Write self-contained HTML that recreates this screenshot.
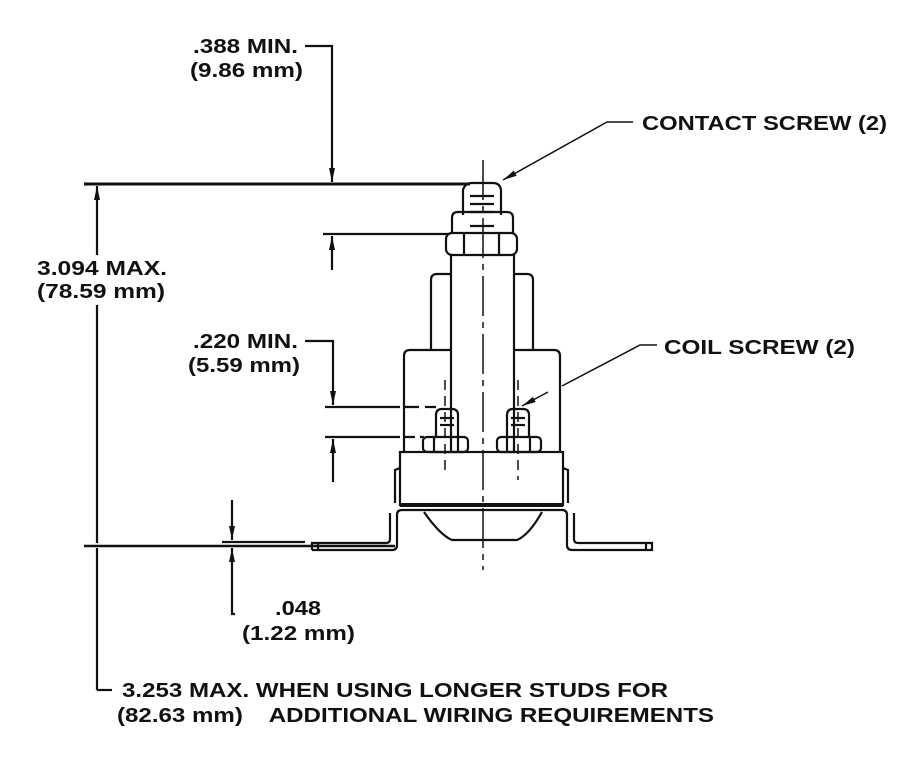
<!DOCTYPE html>
<html><head><meta charset="utf-8"><style>
html,body{margin:0;padding:0;background:#fff}
svg{display:block}
text{font-family:"Liberation Sans",sans-serif;font-weight:bold;font-size:20px;fill:#111}
</style></head><body>
<svg width="900" height="769" viewBox="0 0 900 769" xmlns="http://www.w3.org/2000/svg">
<defs>
<marker id="ah" markerWidth="14" markerHeight="8" refX="14" refY="4" orient="auto-start-reverse" markerUnits="userSpaceOnUse">
<path d="M0,1 L14,4 L0,7 Z" fill="#111"/>
</marker>
</defs>
<g stroke="#111" fill="none" stroke-width="2.2">
<line x1="84" y1="184" x2="470" y2="184" stroke-width="3"/>
<line x1="97" y1="186" x2="97" y2="255" marker-start="url(#ah)"/>
<line x1="97" y1="305" x2="97" y2="543"/>
<line x1="97" y1="548" x2="97" y2="690"/>
<line x1="97" y1="690" x2="112" y2="690"/>
<line x1="84" y1="546" x2="395" y2="546" stroke-width="2.5"/>
<line x1="222" y1="542" x2="305" y2="542"/>
<polyline points="305,46 332,46 332,182" marker-end="url(#ah)"/>
<line x1="323" y1="234" x2="448" y2="234"/>
<line x1="332" y1="270" x2="332" y2="236" marker-end="url(#ah)"/>
<polyline points="305,341 333,341 333,405" marker-end="url(#ah)"/>
<line x1="325" y1="407" x2="400" y2="407"/>
<line x1="405" y1="407" x2="436" y2="407" stroke-dasharray="14,6"/>
<line x1="325" y1="437" x2="400" y2="437"/>
<line x1="405" y1="437" x2="424" y2="437" stroke-dasharray="10,5"/>
<line x1="333" y1="482" x2="333" y2="439" marker-end="url(#ah)"/>
<line x1="232" y1="500" x2="232" y2="540" marker-end="url(#ah)"/>
<polyline points="232,590 232,548" marker-end="url(#ah)"/>
<polyline points="232,590 232,614 235,614"/>
<polyline points="633,122 607,122 503,180" stroke-width="1.5" marker-end="url(#ah)"/>
<polyline points="657,345 640,345 562,386" stroke-width="1.5"/>
<line x1="548" y1="392" x2="522" y2="406" stroke-width="1.5" marker-end="url(#ah)"/>
<line x1="483" y1="160" x2="483" y2="570" stroke-width="1.5" stroke-dasharray="40,6,6,6"/>
<path d="M463,215 L463,190 Q465,183 472,183 L493,183 Q500,183 501,190 L501,215" />
<line x1="470" y1="196" x2="494" y2="196"/><line x1="470" y1="204" x2="494" y2="204"/><line x1="470" y1="212" x2="494" y2="212"/><line x1="470" y1="226" x2="494" y2="226"/>
<path d="M452,233 L452,218 Q452,212 458,212 L507,212 Q513,212 513,218 L513,233"/>
<rect x="446" y="233" width="71" height="22" rx="6"/>
<line x1="464" y1="233" x2="464" y2="255"/><line x1="499" y1="233" x2="499" y2="255"/>
<line x1="451" y1="255" x2="451" y2="452"/><line x1="514" y1="255" x2="514" y2="452"/>
<path d="M431,350 L431,280 Q431,274 437,274 L451,274"/>
<path d="M514,274 L527,274 Q533,274 533,280 L533,350"/>
<path d="M404,452 L404,356 Q404,350 410,350 L451,350"/>
<path d="M514,350 L554,350 Q560,350 560,356 L560,452"/>
<path d="M436,437 L436,415 Q436,409 442,409 L452,409 Q458,409 458,415 L458,437"/>
<line x1="440" y1="418" x2="454" y2="418"/><line x1="440" y1="425" x2="454" y2="425"/>
<rect x="423" y="437" width="45" height="15" rx="4"/>
<line x1="434" y1="437" x2="434" y2="452"/><line x1="458" y1="437" x2="458" y2="452"/>
<path d="M507,437 L507,415 Q507,409 513,409 L523,409 Q529,409 529,415 L529,437"/>
<line x1="511" y1="418" x2="525" y2="418"/><line x1="511" y1="425" x2="525" y2="425"/>
<rect x="497" y="437" width="44" height="15" rx="4"/>
<line x1="507" y1="437" x2="507" y2="452"/><line x1="530" y1="437" x2="530" y2="452"/>
<line x1="445" y1="380" x2="445" y2="470" stroke-width="1.5" stroke-dasharray="10,6"/>
<line x1="518" y1="380" x2="518" y2="480" stroke-width="1.5" stroke-dasharray="10,6"/>
<rect x="400" y="452" width="163" height="53"/>
<line x1="400" y1="505" x2="563" y2="505" stroke-width="4"/>
<path d="M400,468 L395,470 L395,503"/><path d="M563,468 L568,470 L568,503"/>
<path d="M312,550 L392,550 Q397,550 397,545 L397,515 Q397,510 402,510 L562,510 Q567,510 567,515 L567,545 Q567,550 572,550 L652,550 L652,543 L578,543 Q574,543 574,539 L574,513"/>
<path d="M312,550 L312,543 L386,543 Q390,543 390,539 L390,513"/>
<line x1="318" y1="543" x2="318" y2="550"/><line x1="646" y1="543" x2="646" y2="550"/>
<path d="M424,512 Q440,535 452,540 L517,540 Q529,535 542,512"/>
</g>
<text x="193" y="53" textLength="105" lengthAdjust="spacingAndGlyphs">.388 MIN.</text>
<text x="190" y="77" textLength="113" lengthAdjust="spacingAndGlyphs">(9.86 mm)</text>
<text x="37" y="275" textLength="130" lengthAdjust="spacingAndGlyphs">3.094 MAX.</text>
<text x="37" y="298" textLength="128" lengthAdjust="spacingAndGlyphs">(78.59 mm)</text>
<text x="193" y="348" textLength="105" lengthAdjust="spacingAndGlyphs">.220 MIN.</text>
<text x="188" y="372" textLength="112" lengthAdjust="spacingAndGlyphs">(5.59 mm)</text>
<text x="275" y="615" textLength="46" lengthAdjust="spacingAndGlyphs">.048</text>
<text x="242" y="640" textLength="113" lengthAdjust="spacingAndGlyphs">(1.22 mm)</text>
<text x="642" y="130" textLength="245" lengthAdjust="spacingAndGlyphs">CONTACT SCREW (2)</text>
<text x="664" y="354" textLength="191" lengthAdjust="spacingAndGlyphs">COIL SCREW (2)</text>
<text x="122" y="697" textLength="546" lengthAdjust="spacingAndGlyphs">3.253 MAX. WHEN USING LONGER STUDS FOR</text>
<text x="117" y="722" textLength="597" lengthAdjust="spacingAndGlyphs" xml:space="preserve">(82.63 mm)    ADDITIONAL WIRING REQUIREMENTS</text>
</svg>
</body></html>
